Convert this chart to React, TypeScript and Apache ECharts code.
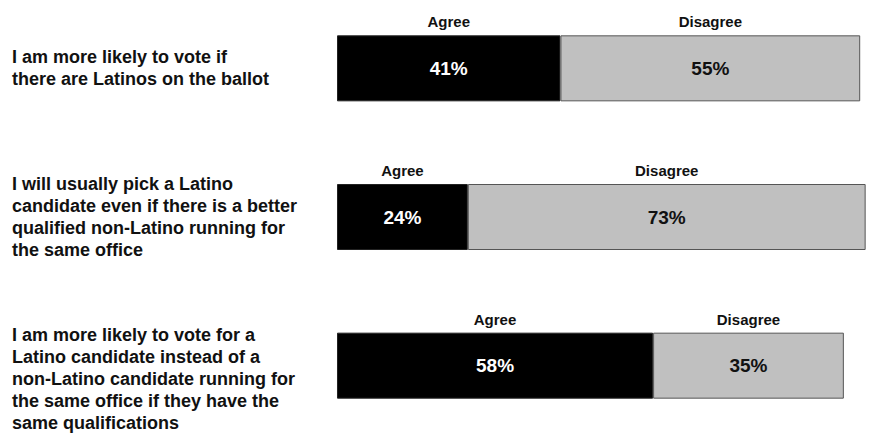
import React, { useEffect, useRef } from "react";
import * as echarts from "echarts";

const statements = [
  "I am more likely to vote if\nthere are Latinos on the ballot",
  "I will usually pick a Latino\ncandidate even if there is a better\nqualified non-Latino running for\nthe same office",
  "I am more likely to vote for a\nLatino candidate instead of a\nnon-Latino candidate running for\nthe same office if they have the\nsame qualifications",
];
const agree = [41, 24, 58];
const disagree = [55, 73, 35];
const headerAgree = "Agree";
const headerDisagree = "Disagree";

const FONT = "'Liberation Sans', Arial, sans-serif";

export default function App() {
  const ref = useRef<HTMLDivElement>(null);
  useEffect(() => {
    if (!ref.current) return;
    const chart = echarts.init(ref.current, null, { renderer: "svg" });
    const headerLabel = (text: string) => ({
      show: true,
      position: "top" as const,
      distance: 6,
      formatter: text,
      color: "#111",
      fontSize: 15,
      fontWeight: "bold" as const,
      fontFamily: FONT,
    });
    const axisLabelStyle = {
      align: "left" as const,
      fontSize: 18,
      fontWeight: "bold" as const,
      color: "#111",
      lineHeight: 22,
      fontFamily: FONT,
    };
    chart.setOption({
      animation: false,
      backgroundColor: "#ffffff",
      grid: {
        left: 337,
        right: -7,
        top: -6,
        bottom: -7,
        containLabel: false,
        outerBoundsMode: "none",
      },
      xAxis: { type: "value", min: 0, max: 100, show: false },
      yAxis: {
        type: "category",
        inverse: true,
        data: statements,
        axisLine: { show: false },
        axisTick: { show: false },
        splitLine: { show: false },
        axisLabel: {
          ...axisLabelStyle,
          margin: 325,
          formatter: (val: string, idx: number) =>
            idx === 2
              ? "{gap| }\n" +
                val
                  .split("\n")
                  .map((l) => `{t|${l}}`)
                  .join("\n")
              : val,
          rich: {
            gap: { ...axisLabelStyle, fontSize: 4, lineHeight: 27, height: 27 },
            t: { ...axisLabelStyle },
          },
        },
      },
      series: [
        {
          name: "Agree",
          type: "bar",
          stack: "bars",
          barWidth: 66,
          data: agree,
          itemStyle: { color: "#000000", borderColor: "#222", borderWidth: 1 },
          label: {
            show: true,
            position: "inside",
            formatter: "{c}%",
            color: "#ffffff",
            fontSize: 19,
            fontWeight: "bold",
            fontFamily: FONT,
          },
        },
        {
          name: "Disagree",
          type: "bar",
          stack: "bars",
          barWidth: 66,
          data: disagree,
          itemStyle: { color: "#c0c0c0", borderColor: "#555", borderWidth: 1 },
          label: {
            show: true,
            position: "inside",
            formatter: "{c}%",
            color: "#111",
            fontSize: 19,
            fontWeight: "bold",
            fontFamily: FONT,
          },
        },
        {
          name: "AgreeHeader",
          type: "bar",
          stack: "headers",
          barWidth: 66,
          barGap: "-100%",
          data: agree,
          itemStyle: { color: "rgba(0,0,0,0)" },
          label: headerLabel(headerAgree),
          silent: true,
        },
        {
          name: "DisagreeHeader",
          type: "bar",
          stack: "headers",
          barWidth: 66,
          barGap: "-100%",
          data: disagree,
          itemStyle: { color: "rgba(0,0,0,0)" },
          label: headerLabel(headerDisagree),
          silent: true,
        },
      ],
    });
    return () => chart.dispose();
  }, []);
  return (
    <div
      ref={ref}
      style={{ position: "absolute", left: 0, top: 0, width: 875, height: 433 }}
    />
  );
}
